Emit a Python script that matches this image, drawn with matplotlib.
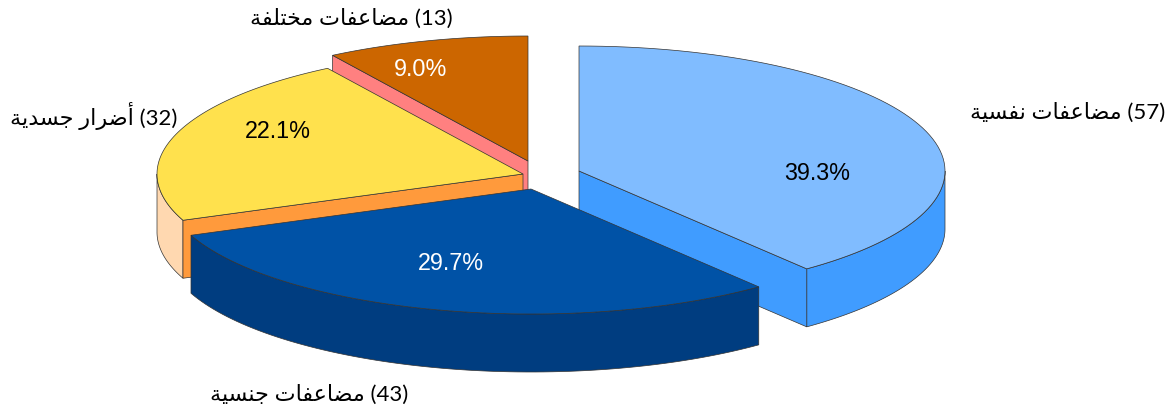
import numpy as np
import matplotlib
matplotlib.use("Agg")
import matplotlib.pyplot as plt
from matplotlib.patches import Polygon

names = ["مضاعفات نفسية", "مضاعفات جنسية", "أضرار جسدية", "مضاعفات مختلفة"]
counts = [57, 43, 32, 13]

top_colors = ["#80BCFF", "#0052A6", "#FFE14D", "#CC6600"]
cut_colors = ["#409CFF", "#003D80", "#FF9A3C", "#FF8080"]
rim_colors = ["#409CFF", "#003D80", "#FFD8B0", "#FF8080"]
pct_colors = ["black", "white", "black", "white"]

# apex of each exploded slice, in image pixels
apex = [(579, 172), (531, 190), (523, 175), (528, 162)]
pct_pos = [(817, 173.5), (451, 263.5), (278, 131.5), (421, 69.5)]
label_pos = [(1068, 113), (309, 395), (94, 116), (351, 19)]
draw_order = [3, 0, 2, 1]

RX, RY, DEPTH = 366, 125, 58

# matplotlib has no arabic shaping: isolated, final, initial, medial forms
FORMS = {
    "ا": (0xFE8D, 0xFE8E), "أ": (0xFE83, 0xFE84), "ر": (0xFEAD, 0xFEAE),
    "د": (0xFEA9, 0xFEAA), "ة": (0xFE93, 0xFE94),
    "م": (0xFEE1, 0xFEE2, 0xFEE3, 0xFEE4), "ض": (0xFEBD, 0xFEBE, 0xFEBF, 0xFEC0),
    "ع": (0xFEC9, 0xFECA, 0xFECB, 0xFECC), "ف": (0xFED1, 0xFED2, 0xFED3, 0xFED4),
    "ت": (0xFE95, 0xFE96, 0xFE97, 0xFE98), "ن": (0xFEE5, 0xFEE6, 0xFEE7, 0xFEE8),
    "س": (0xFEB1, 0xFEB2, 0xFEB3, 0xFEB4), "ي": (0xFEF1, 0xFEF2, 0xFEF3, 0xFEF4),
    "خ": (0xFEA5, 0xFEA6, 0xFEA7, 0xFEA8), "ل": (0xFEDD, 0xFEDE, 0xFEDF, 0xFEE0),
    "ج": (0xFE9D, 0xFE9E, 0xFE9F, 0xFEA0),
}


def shape(text):
    out = []
    for i, c in enumerate(text):
        if c not in FORMS:
            out.append(c)
            continue
        prev = text[i-1] if i > 0 else " "
        nxt = text[i+1] if i < len(text)-1 else " "
        before = prev in FORMS and len(FORMS[prev]) == 4
        after = nxt in FORMS and len(FORMS[c]) == 4
        idx = {(False, False): 0, (True, False): 1, (False, True): 2, (True, True): 3}[(before, after)]
        out.append(chr(FORMS[c][idx]))
    return "".join(reversed(out))


def rim(cx, cy, a0, a1, n=80):
    t = np.radians(np.linspace(a0, a1, n))
    return np.column_stack([cx + RX*np.sin(t), cy - RY*np.cos(t)])


def draw_slice(ax, i, a0, a1):
    cx, cy = apex[i]
    edge = rim(cx, cy, a0, a1)
    down = np.array([0, DEPTH])
    kw = dict(edgecolor="#333333", linewidth=0.5)
    # only the front half of the rim shows
    f0, f1 = max(a0, 90), min(a1, 270)
    if f0 < f1:
        front = rim(cx, cy, f0, f1)
        ax.add_patch(Polygon(np.vstack([front, (front + down)[::-1]]), facecolor=rim_colors[i], **kw))
    # cut faces that look towards the viewer
    for p, a, show in ((edge[0], a0, a0 > 180), (edge[-1], a1, a1 < 180)):
        if show:
            face = [(cx, cy), p, p + down, (cx, cy + DEPTH)]
            ax.add_patch(Polygon(face, facecolor=cut_colors[i], **kw))
    ax.add_patch(Polygon(np.vstack([[(cx, cy)], edge]), facecolor=top_colors[i], **kw))


fig = plt.figure(figsize=(11.73, 4.10), dpi=100)
ax = fig.add_axes([0, 0, 1, 1])
ax.set_xlim(0, 1173)
ax.set_ylim(410, 0)
ax.axis("off")

angles = np.concatenate([[0], np.cumsum(counts) / sum(counts) * 360])
for i in draw_order:
    draw_slice(ax, i, angles[i], angles[i+1])

for i, n in enumerate(counts):
    x, y = pct_pos[i]
    ax.text(x, y, f"{n / sum(counts) * 100:.1f}%", color=pct_colors[i], ha="center", va="center",
            fontsize=16.8, family="Liberation Sans")
    x, y = label_pos[i]
    ax.text(x, y, f"{shape(names[i])} ({n})", color="black", ha="center", va="center",
            fontsize=16, family=["Lato", "DejaVu Sans"])

fig.savefig("out.png", dpi=100)
